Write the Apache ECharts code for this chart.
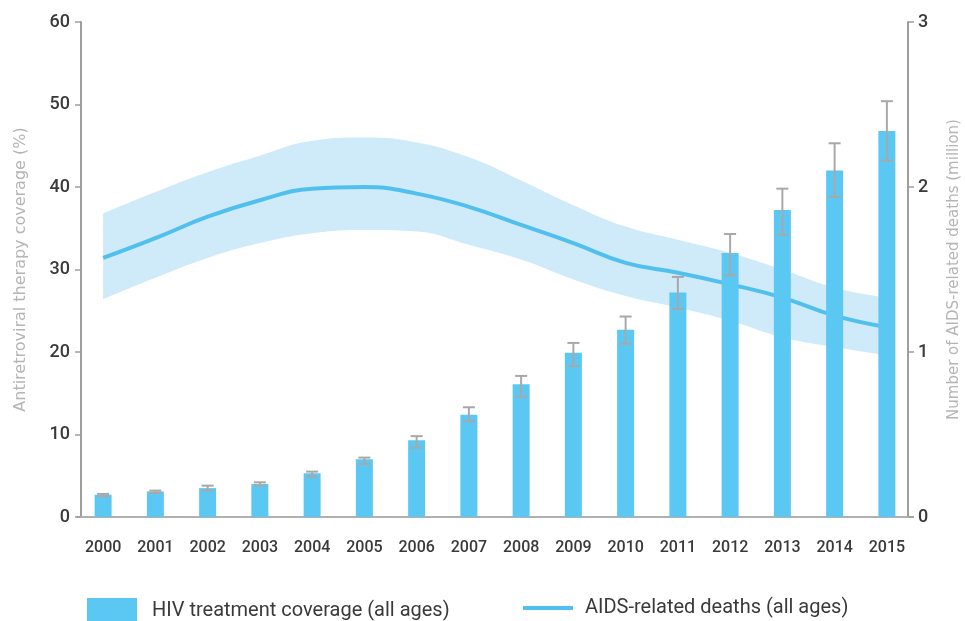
<!DOCTYPE html>
<html>
<head>
<meta charset="utf-8">
<script src="https://cdn.jsdelivr.net/npm/echarts@6/dist/echarts.min.js"></script>
<style>
  html, body { margin: 0; padding: 0; background: #ffffff; }
  #chart { width: 965px; height: 621px; }
</style>
</head>
<body>
<div id="chart"></div>
<script>
// Years on the category axis
var years = ['2000','2001','2002','2003','2004','2005','2006','2007',
             '2008','2009','2010','2011','2012','2013','2014','2015'];

// HIV treatment coverage (%), with uncertainty bounds
var coverage     = [2.7, 3.1, 3.5, 4.0, 5.3, 7.0, 9.3, 12.4, 16.1, 19.9, 22.7, 27.2, 32.0, 37.2, 42.0, 46.8];
var coverageLow  = [2.5, 2.9, 3.2, 3.8, 4.9, 6.4, 8.4, 11.6, 14.6, 18.3, 21.0, 25.2, 29.3, 34.2, 38.8, 43.2];
var coverageHigh = [2.8, 3.2, 3.8, 4.2, 5.5, 7.2, 9.8, 13.3, 17.1, 21.1, 24.3, 29.1, 34.3, 39.8, 45.3, 50.4];

// AIDS-related deaths (million), with uncertainty bounds
var deaths     = [1.57, 1.69, 1.82, 1.92, 1.99, 2.00, 1.96, 1.88, 1.77, 1.66, 1.54, 1.48, 1.41, 1.33, 1.22, 1.15];
var deathsLow  = [1.32, 1.45, 1.57, 1.66, 1.72, 1.74, 1.73, 1.65, 1.56, 1.44, 1.34, 1.27, 1.19, 1.09, 1.03, 0.98];
var deathsHigh = [1.84, 1.97, 2.09, 2.19, 2.28, 2.30, 2.27, 2.18, 2.04, 1.89, 1.76, 1.68, 1.60, 1.50, 1.39, 1.33];

var leftTicks = { min: 0, max: 60, interval: 10 };
var rightTicks = { min: 0, max: 3, interval: 1 };

var BAR_NAME = 'HIV treatment coverage (all ages)';
var LINE_NAME = 'AIDS-related deaths (all ages)';

var FONT = 'Roboto, "Noto Sans", sans-serif';
var TITLE_FONT = '"DejaVu Sans", sans-serif';
var BAR_COLOR = '#5bc8f3';
var LINE_COLOR = '#52c0ef';
var BAND_COLOR = '#cfeaf9';
var ERR_COLOR = '#a8a8a8';
var AXIS_COLOR = '#9e9e9e';
var SMOOTH = 0.45;

// Band thickness = upper - lower, stacked on the lower bound
var bandWidth = deathsHigh.map(function (v, i) { return +(v - deathsLow[i]).toFixed(3); });

var errData = years.map(function (y, i) { return [i, coverageLow[i], coverageHigh[i]]; });

var chart = echarts.init(document.getElementById('chart'));

chart.setOption({
  backgroundColor: '#ffffff',
  animation: false,
  textStyle: { fontFamily: FONT },
  grid: { left: 77, right: 52, top: 22, bottom: 104, containLabel: false, outerBoundsMode: 'none' },
  legend: [
    {
      left: 82, top: 593,
      itemWidth: 50, itemHeight: 25,
      icon: 'rect',
      data: [BAR_NAME],
      textStyle: { fontSize: 20, color: '#3a3a3a', fontFamily: FONT, padding: [0, 0, 0, 10] }
    },
    {
      left: 518, top: 593,
      itemWidth: 50, itemHeight: 4,
      icon: 'rect',
      data: [LINE_NAME],
      textStyle: { fontSize: 20, color: '#3a3a3a', fontFamily: FONT, padding: [0, 0, 0, 7] }
    }
  ],
  xAxis: {
    type: 'category',
    data: years,
    boundaryGap: true,
    axisLine: { lineStyle: { color: '#b0b0b0', width: 2 } },
    axisTick: { show: false },
    axisLabel: { color: '#3a3a3a', fontSize: 16, fontWeight: 500, margin: 23, fontFamily: FONT }
  },
  yAxis: [
    {
      type: 'value',
      min: leftTicks.min, max: leftTicks.max, interval: leftTicks.interval,
      offset: -4,
      name: 'Antiretroviral therapy coverage (%)',
      nameLocation: 'middle',
      nameRotate: 90,
      nameGap: 52,
      nameTextStyle: { color: '#b5b5b5', fontSize: 16, fontFamily: TITLE_FONT },
      axisLine: { show: true, lineStyle: { color: AXIS_COLOR, width: 2 } },
      axisTick: { show: true, length: 6, lineStyle: { color: AXIS_COLOR, width: 1.5 } },
      axisLabel: { color: '#3a3a3a', fontSize: 18, fontWeight: 500, margin: 11, fontFamily: FONT },
      splitLine: { show: false }
    },
    {
      type: 'value',
      min: rightTicks.min, max: rightTicks.max, interval: rightTicks.interval,
      offset: -5,
      position: 'right',
      name: 'Number of AIDS-related deaths (million)',
      nameLocation: 'middle',
      nameRotate: 90,
      nameGap: 39,
      nameTextStyle: { color: '#b5b5b5', fontSize: 15, fontFamily: TITLE_FONT },
      axisLine: { show: true, lineStyle: { color: AXIS_COLOR, width: 2 } },
      axisTick: { show: true, length: 6, lineStyle: { color: AXIS_COLOR, width: 1.5 } },
      axisLabel: { color: '#3a3a3a', fontSize: 18, fontWeight: 500, margin: 10, fontFamily: FONT },
      splitLine: { show: false }
    }
  ],
  series: [
    {
      name: 'deathsLowBound',
      type: 'line',
      yAxisIndex: 1,
      data: deathsLow,
      stack: 'band',
      smooth: SMOOTH,
      symbol: 'none',
      lineStyle: { opacity: 0 },
      silent: true,
      z: 1
    },
    {
      name: 'deathsBand',
      type: 'line',
      yAxisIndex: 1,
      data: bandWidth,
      stack: 'band',
      smooth: SMOOTH,
      symbol: 'none',
      lineStyle: { opacity: 0 },
      areaStyle: { color: BAND_COLOR, opacity: 1 },
      silent: true,
      z: 1
    },
    {
      name: LINE_NAME,
      type: 'line',
      yAxisIndex: 1,
      data: deaths,
      smooth: SMOOTH,
      symbol: 'none',
      lineStyle: { color: LINE_COLOR, width: 4 },
      itemStyle: { color: LINE_COLOR },
      z: 2
    },
    {
      name: BAR_NAME,
      type: 'bar',
      yAxisIndex: 0,
      data: coverage,
      barWidth: 17,
      itemStyle: { color: BAR_COLOR },
      z: 3
    },
    {
      name: 'coverageRange',
      type: 'custom',
      yAxisIndex: 0,
      data: errData,
      silent: true,
      z: 4,
      renderItem: function (params, api) {
        var x = api.value(0);
        var lo = api.coord([x, api.value(1)]);
        var hi = api.coord([x, api.value(2)]);
        var half = 6;
        var style = { stroke: ERR_COLOR, lineWidth: 2 };
        return {
          type: 'group',
          children: [
            { type: 'line', shape: { x1: hi[0], y1: hi[1], x2: lo[0], y2: lo[1] }, style: style },
            { type: 'line', shape: { x1: hi[0] - half, y1: hi[1], x2: hi[0] + half, y2: hi[1] }, style: style },
            { type: 'line', shape: { x1: lo[0] - half, y1: lo[1], x2: lo[0] + half, y2: lo[1] }, style: style }
          ]
        };
      }
    }
  ]
});
</script>
</body>
</html>
